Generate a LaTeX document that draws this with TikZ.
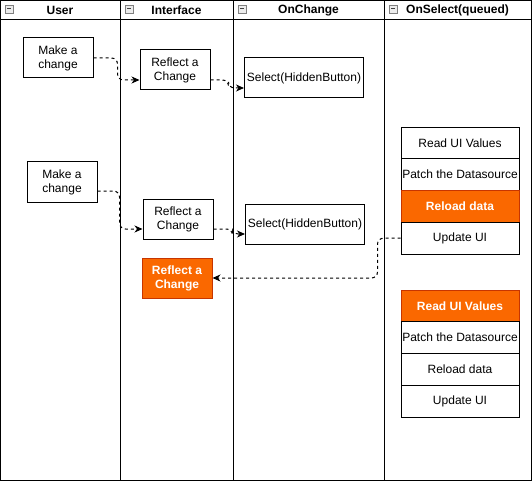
\documentclass[tikz,border=0pt]{standalone}
\usepackage{fontspec}
\setmainfont{Liberation Sans}
\usetikzlibrary{positioning,arrows.meta}
\definecolor{orangefill}{HTML}{FA6800}
\definecolor{orangeline}{HTML}{C73500}
\tikzset{
    box/.style={draw, line width=1pt, fill=white, minimum width=70pt, minimum height=40pt, inner sep=0pt, align=center, font=\fontsize{12}{14}\selectfont},
    hot/.style={box, fill=orangefill, draw=orangeline, text=white, font=\fontsize{12}{14}\selectfont\bfseries},
    row/.style={box, minimum width=118pt, minimum height=31.75pt},
    hotrow/.style={hot, minimum width=118pt, minimum height=31.75pt},
    flow/.style={line width=1pt, dash pattern=on 3pt off 3pt, rounded corners=6pt, -{Stealth[length=8pt,width=7pt,inset=2.5pt]}},
    lanehead/.style={font=\fontsize{12}{14}\selectfont\bfseries}
}
\begin{document}
\begin{tikzpicture}[x=1pt,y=-1pt]
    \useasboundingbox (0,0) rectangle (532,481);
    % lanes
    \draw[line width=1pt] (0.5,0.5) rectangle (531.5,480.5);
    \draw[line width=1pt] (0.5,20) -- (531.5,20);
    \foreach \x in {120,233,384}
        \draw[line width=1pt] (\x,0.5) -- (\x,480.5);
    \foreach \x in {0,120,233,384} {
        \filldraw[draw=gray, fill=gray!15, line width=0.8pt] (\x+5,5) rectangle (\x+13,13);
        \draw[line width=1pt, black!75] (\x+7,9) -- (\x+11,9);
    }
    \node[lanehead](huser) at (60,10) {User};
    \node[lanehead](hint) at (176.5,10) {Interface};
    \node[lanehead](hchg) at (308.5,10) {OnChange};
    \node[lanehead](hsel) at (457.5,10) {OnSelect(queued)};
    % first change
    \node[box](make1) at (58,58) {Make a\\change};
    \node[box](refl1) at (175,70) {Reflect a\\Change};
    \node[box, minimum width=119pt](sel1) at (304,78) {Select(HiddenButton)};
    % second change
    \node[box](make2) at (62,182) {Make a\\change};
    \node[box](refl2) at (178,219) {Reflect a\\Change};
    \node[box, minimum width=119pt](sel2) at (305,224) {Select(HiddenButton)};
    \node[hot](reflo) at (177,278) {Reflect a\\Change};
    % queued OnSelect runs
    \node[row](read1) at (460,142.9) {Read UI Values};
    \node[row, below=-1pt of read1](patch1) {Patch the Datasource};
    \node[hotrow, below=-1pt of patch1](load1) {Reload data};
    \node[row, below=-1pt of load1](upd1) {Update UI};
    \node[hotrow](read2) at (460,305.9) {Read UI Values};
    \node[row, below=-1pt of read2](patch2) {Patch the Datasource};
    \node[row, below=-1pt of patch2](load2) {Reload data};
    \node[row, below=-1pt of load2](upd2) {Update UI};
    % connectors
    \draw[flow] (make1.east) -- ++(24,0) |- ([yshift=-10pt]refl1.west);
    \draw[flow] ([yshift=-10pt]refl1.east) -- ++(18,0) |- ([yshift=-10pt]sel1.west);
    \draw[flow] ([yshift=-9pt]make2.east) -- ++(22,0) |- ([yshift=-10pt]refl2.west);
    \draw[flow] ([yshift=-10pt]refl2.east) -- ++(19,0) |- ([yshift=-10pt]sel2.west);
    \draw[flow] (upd1.west) -- ++(-23,0) |- (reflo.east);
\end{tikzpicture}
\end{document}
